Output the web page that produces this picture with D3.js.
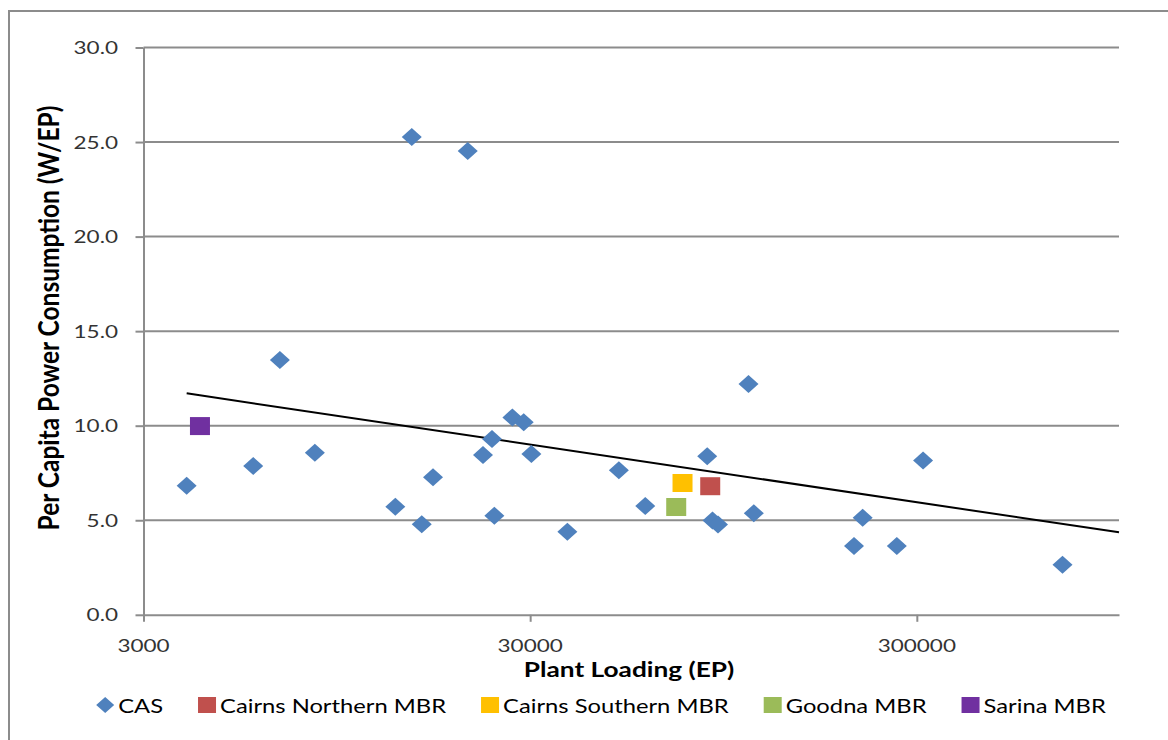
<!DOCTYPE html>
<html>
<head>
<meta charset="utf-8">
<script src="https://cdn.jsdelivr.net/npm/d3@7"></script>
<style>
  body { margin: 0; background: #fff; }
  text { font-family: Lato, "Open Sans", sans-serif; }
</style>
</head>
<body>
<div id="chart"></div>
<script>
// data
var xTicks = [3000, 30000, 300000];
var yTicks = [0, 5, 10, 15, 20, 25, 30];

// CAS plants: loading (EP) and per capita power (W/EP)
var casLoad = [3879, 5766, 6759, 8324, 13441, 14823, 15730, 16823, 20685, 22654,
  23900, 24240, 26990, 28870, 30220, 37440, 50880, 59540, 86100, 88860,
  91820, 110100, 113640, 206400, 217300, 266300, 311400, 714300];
var casPower = [6.83, 7.87, 13.47, 8.57, 5.72, 25.27, 4.79, 7.27, 24.53, 8.45,
  9.30, 5.24, 10.44, 10.18, 8.50, 4.39, 7.64, 5.75, 8.38, 4.99,
  4.78, 12.21, 5.37, 3.64, 5.13, 3.64, 8.16, 2.65];

// MBR plants
var mbrNames = ['Cairns Northern MBR', 'Cairns Southern MBR', 'Goodna MBR', 'Sarina MBR'];
var mbrLoad = [87660, 74330, 71590, 4199];
var mbrPower = [6.80, 6.97, 5.70, 9.98];

// trend line (log fit of CAS) end points
var trendLoad = [3879, 1000000];
var trendPower = [11.71, 4.36];

var casColor = '#4F81BD';
var mbrColors = ['#C0504D', '#FFC000', '#9BBB59', '#7030A0'];

var W = 1168, H = 740;
var SX = 1.25; // the picture is stretched sideways
var gridColor = '#8c8c8c';

var svg = d3.select('#chart').append('svg')
  .attr('width', W)
  .attr('height', H);

// outer frame
svg.append('path')
  .attr('d', 'M9,' + H + 'V11H' + W)
  .attr('fill', 'none')
  .attr('stroke', gridColor)
  .attr('stroke-width', 2);

var x = d3.scaleLog().domain([3000, 1000000]).range([143.5, 1119]);
var y = d3.scaleLinear().domain([0, 30]).range([614.8, 47.5]);

// gridlines
svg.selectAll('.grid')
  .data(yTicks.filter(function (d) { return d > 0; }))
  .enter()
  .append('line')
  .attr('class', 'grid')
  .attr('x1', x.range()[0])
  .attr('x2', x.range()[1])
  .attr('y1', function (d) { return y(d); })
  .attr('y2', function (d) { return y(d); })
  .attr('stroke', gridColor)
  .attr('stroke-width', 2);

// axes
var yAxis = svg.append('g')
  .attr('transform', 'translate(' + x.range()[0] + ',0)')
  .call(d3.axisLeft(y).tickValues(yTicks).tickSize(8).tickSizeOuter(0).tickFormat(''));
var xAxis = svg.append('g')
  .attr('transform', 'translate(0,' + y(0) + ')')
  .call(d3.axisBottom(x).tickValues(xTicks).tickSize(7).tickSizeOuter(0).tickFormat(''));
[xAxis, yAxis].forEach(function (g) {
  g.selectAll('path, line').attr('stroke', gridColor).attr('stroke-width', 2);
});

// tick labels
svg.selectAll('.ylab')
  .data(yTicks)
  .enter()
  .append('text')
  .attr('class', 'ylab')
  .attr('transform', function (d) {
    return 'translate(118,' + (y(d) + 6.5) + ') scale(' + SX + ',1)';
  })
  .attr('text-anchor', 'end')
  .attr('font-size', '18px')
  .attr('fill', '#333')
  .text(function (d) { return d3.format('.1f')(d); });

svg.selectAll('.xlab')
  .data(xTicks)
  .enter()
  .append('text')
  .attr('class', 'xlab')
  .attr('transform', function (d) {
    return 'translate(' + x(d) + ',652) scale(' + SX + ',1)';
  })
  .attr('text-anchor', 'middle')
  .attr('font-size', '18px')
  .attr('fill', '#333')
  .text(function (d) { return d; });

// axis titles
svg.append('text')
  .attr('transform', 'translate(629,677) scale(' + SX + ',1)')
  .attr('text-anchor', 'middle')
  .attr('font-size', '21px')
  .attr('font-weight', 'bold')
  .attr('fill', '#000')
  .text('Plant Loading (EP)');

svg.append('text')
  .attr('transform', 'translate(59,318) scale(1.15,1) rotate(-90)')
  .attr('text-anchor', 'middle')
  .attr('font-size', '24.5px')
  .attr('font-weight', 'bold')
  .attr('fill', '#000')
  .text('Per Capita Power Consumption (W/EP)');

// trend line
svg.append('line')
  .attr('x1', x(trendLoad[0]))
  .attr('y1', y(trendPower[0]))
  .attr('x2', x(trendLoad[1]))
  .attr('y2', y(trendPower[1]))
  .attr('stroke', '#000')
  .attr('stroke-width', 2);

// markers
function diamond(w, h) {
  return 'M0,' + (-h) + 'L' + w + ',0L0,' + h + 'L' + (-w) + ',0Z';
}

svg.selectAll('.cas')
  .data(casLoad)
  .enter()
  .append('path')
  .attr('class', 'cas')
  .attr('d', diamond(10, 9))
  .attr('transform', function (d, i) {
    return 'translate(' + x(d) + ',' + y(casPower[i]) + ')';
  })
  .attr('fill', casColor);

svg.selectAll('.mbr')
  .data(mbrLoad)
  .enter()
  .append('rect')
  .attr('class', 'mbr')
  .attr('x', function (d) { return x(d) - 10; })
  .attr('y', function (d, i) { return y(mbrPower[i]) - 9; })
  .attr('width', 20)
  .attr('height', 18)
  .attr('fill', function (d, i) { return mbrColors[i]; });

// legend
var legendNames = ['CAS'].concat(mbrNames);
var legendColors = [casColor].concat(mbrColors);
var legend = svg.append('g');
var lx = 0;
legendNames.forEach(function (name, i) {
  var g = legend.append('g').attr('transform', 'translate(' + lx + ',0)');
  if (i === 0) {
    g.append('path').attr('d', diamond(9, 8)).attr('transform', 'translate(9,-1)')
      .attr('fill', legendColors[i]);
  } else {
    g.append('rect').attr('x', 0).attr('y', -9).attr('width', 18).attr('height', 16)
      .attr('fill', legendColors[i]);
  }
  var t = g.append('text')
    .attr('transform', 'translate(22,7) scale(' + SX + ',1)')
    .attr('font-size', '19px')
    .attr('fill', '#000')
    .text(name);
  lx += 22 + t.node().getComputedTextLength() * SX + 35;
});
lx -= 35;
legend.attr('transform', 'translate(' + (601 - lx / 2) + ',706)');
</script>
</body>
</html>
